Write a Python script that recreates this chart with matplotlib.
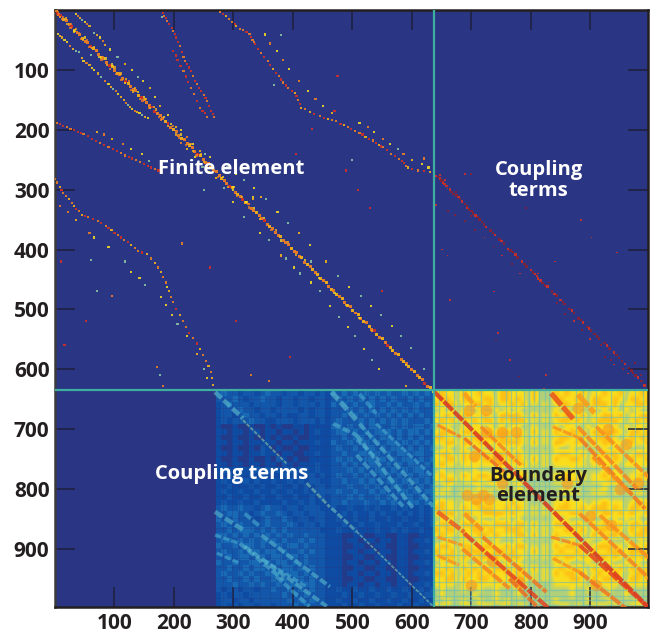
import matplotlib
matplotlib.use('Agg')
import numpy as np
import matplotlib.pyplot as plt
from matplotlib.colors import LinearSegmentedColormap

tick_values = [100, 200, 300, 400, 500, 600, 700, 800, 900]

labels_white = [("Finite element", 297, 265), ("Coupling\nterms", 813, 285), ("Coupling terms", 297, 775)]
labels_dark = [("Boundary\nelement", 813, 795)]

# level digits, 5 yellow-green, 6 yellow, 7 amber
be_levels = [
    "6766576676 6577666575 5576766756 6766756676",
    "6776577667 7577676575 5577667657 7667657767",
    "7677566776 7566767565 6567766757 7767566776",
    "5656565565 5656565555 5565656556 5656565655",
    "6676577667 6577776575 6576776756 6776756677",
    "6767576767 7576777565 6567767656 7777656767",
    "5665565665 6565665565 5565665565 6656565665",
    "6776577667 7677666575 6576677657 7677657767",
    "7766566776 7777676565 6567766756 7776567676",
    "6677577677 6677776575 6577667657 6776657667",
    "5565565565 5656565555 5565565555 5656565556",
    "6776576677 6777676565 6567766756 6777656776",
    "6677576767 7766776575 6576677657 7667657667",
    "6766566666 6676667565 6566666656 6666566666",
    "5655555655 5655565555 5555565555 5656555655",
    "6766576677 6676667565 5566766656 6766656676",
    "6677566766 7666666555 5566667656 6677656766",
    "5565555565 5655565555 5555555555 5655555655",
    "6665566666 6566566555 5556666556 6656556665",
    "5555555555 5555555555 5555555555 5555555555",
    "6766566776 6666766555 5566766656 6766656776",
    "7766576677 7667676565 6567766767 7767657767",
    "6777567667 7776766565 6576677657 6776767667",
    "5656565565 5656565555 5565655565 5656565655",
    "6776577767 6777677575 6577667657 6776757767",
    "7677566776 7667776565 6566776756 7767657677",
    "6766576677 6766677575 6576667657 6677656776",
    "5565565565 5655565555 5565565565 5655565565",
    "6776577667 7667677565 6576776756 7776657667",
    "7667567776 6776766575 6567667657 6677767776",
    "6777576677 7767776565 6576776766 7767657677",
    "5656565565 5656565555 5565655565 5565565655",
    "6676576767 6777677575 6567667657 6776757667",
    "7767567676 7667676565 6576776756 7667656776",
    "6677576677 6766777565 6566677657 6777657767",
    "6666566666 6666666555 5566666656 6666566666",
    "5655565565 5655565555 5555565565 5565565555",
    "5655555655 5655565555 5555565555 5655565555",
    "5565565565 5656555555 5565555565 5565555655",
    "6665566566 6566566555 5556656556 6656556665",
]
be_shades = {5: 5.35, 6: 6.0, 7: 6.8}

coupling_levels = [
    "2322122123 2212212212 1 3232323232 322323232",
    "2223212232 2122122122 1 2323232323 232232322",
    "1232221222 2122122212 1 3232322322 323223232",
    "1222322122 1222212122 1 2223232323 232323222",
    "1221232212 2121122122 1 2232323232 323232322",
    "1212223221 1222122212 1 2322232323 232322232",
    "1001001001 0100110111 1 3323232332 232323323",
    "1101101101 1011010121 1 2332323233 323233232",
    "1001001001 0100100111 1 2232332323 323232322",
    "1101101111 1011011121 1 3223233232 332323232",
    "1001001021 0100100111 1 2322323323 233232323",
    "1101101121 1011001121 1 2232233232 323323322",
    "1001001001 0210100111 1 2323223323 232332323",
    "1101101101 1021011121 1 2232322332 323233232",
    "1211211212 1212122121 1 2223232233 232323322",
    "1121212121 1121212212 1 2322323223 323232332",
    "1212121211 2112121221 1 2232232322 332323232",
    "1121112121 1211212122 1 2223223232 233232323",
    "1211211211 2112112122 2 2322322323 223323233",
    "1121121121 1211211212 1 2223232232 322332323",
    "1211211211 1121121211 1 2232223223 232233232",
    "2322322123 2212212221 1 2112112121 121211212",
    "2233221232 2321221222 1 1121211212 112121212",
    "3223222123 2232122122 1 1211211211 211211212",
    "2322322223 2223212212 1 1121121121 112112112",
    "2232333232 3232222221 1 1211211121 121211211",
    "3323232323 2323223222 1 1100110011 001100111",
    "2332323233 3232232322 1 1101101101 101101121",
    "3223233232 2323323222 1 1100110011 001100111",
    "2322323323 3232232322 1 1101101101 101101121",
    "2232332232 3323323222 1 1100110011 001100111",
    "3223223323 2332323222 1 1101101101 101101121",
    "2232232332 3233232322 1 1100110011 001100111",
    "2322323223 3323323222 1 1101101101 101101121",
    "2232232322 3232332322 1 1100110011 001100111",
    "2223223232 2323323322 1 1101101101 101101121",
    "2122122122 3223232322 1 1211211211 211211212",
    "1212212222 2232323222 1 1121121121 121121122",
    "1221221222 2223232322 1 1211211211 211211211",
    "1212122122 1222323222 1 1121121121 112112112",
]
coupling_shades = {0: 0.3, 1: 1.0, 2: 1.35, 3: 1.9}

be_columns = [646, 657, 671, 686, 699, 716, 738, 758, 766, 775, 789, 797, 806, 814, 823, 831, 876, 888, 910, 935, 955, 975, 989]
be_rows = [662, 679, 690, 712, 740, 765, 787, 795, 804, 812, 835, 860, 880, 910, 930, 955, 969, 978, 986, 994]
coupling_columns = [282, 297, 310, 330, 345, 361, 378, 394, 410, 425, 440, 455, 478, 494, 510, 525, 541, 556, 572, 588, 604, 620]
coupling_rows = [650, 665, 680, 695, 712, 728, 745, 760, 778, 795, 812, 848, 865, 880, 898, 915, 930, 948, 965, 982]

be_blob_x = [696, 724, 752, 775, 724, 880, 930, 960, 692, 720, 707, 730, 752, 705, 745, 780, 900, 935, 950, 980, 910, 860, 700, 735]
be_blob_y = [668, 668, 704, 704, 704, 665, 700, 725, 810, 810, 816, 816, 790, 745, 750, 955, 845, 860, 800, 790, 960, 790, 960, 920]

be_stripe_x0 = [637, 716, 688, 643, 688, 834, 879, 879, 837, 882, 910, 904, 643, 688, 688, 719, 643, 685, 643, 764, 834, 882, 882, 916, 837, 882]
be_stripe_y0 = [637, 696, 640, 693, 715, 640, 642, 696, 696, 715, 696, 746, 838, 874, 841, 880, 880, 900, 911, 950, 880, 841, 894, 844, 916, 939]
be_stripe_x1 = [1000, 783, 707, 682, 755, 873, 907, 978, 882, 992, 1000, 966, 688, 831, 719, 826, 685, 764, 679, 814, 882, 1000, 1000, 1000, 882, 961]
be_stripe_y1 = [1000, 760, 662, 713, 771, 685, 673, 799, 715, 833, 782, 805, 872, 1000, 869, 972, 894, 966, 927, 1000, 894, 950, 1000, 916, 939, 1000]
be_stripe_v = [9.1, 8, 7.6, 8, 8.3, 8.6, 7.6, 8, 7.7, 8.2, 7.8, 7.8, 8.5, 8.8, 7.8, 8.2, 7.7, 8, 7.7, 8.3, 8, 8, 8.8, 7.8, 7.7, 8.2]
be_stripe_w = [3.0, 2.5, 3.2, 2.3, 2.4, 3.8, 3.8, 2.8, 2.3, 2.8, 2.8, 2.8, 3.2, 3.0, 3.2, 2.8, 2.3, 2.8, 2.3, 2.8, 2.3, 2.8, 2.8, 2.8, 2.3, 2.8]

coupling_stripe_x0 = [269, 316, 423, 465, 507, 465, 512, 468, 507, 540, 507, 507, 512, 269, 319, 347, 269, 311, 319, 272, 350, 372]
coupling_stripe_y0 = [638, 685, 790, 832, 871, 638, 691, 691, 710, 691, 718, 743, 641, 838, 841, 877, 877, 891, 896, 907, 918, 946]
coupling_stripe_x1 = [316, 389, 462, 507, 636, 507, 636, 507, 602, 636, 546, 585, 540, 316, 345, 462, 311, 384, 457, 311, 423, 428]
coupling_stripe_y1 = [682, 757, 830, 871, 996, 685, 829, 710, 832, 780, 752, 829, 674, 868, 863, 963, 891, 952, 996, 924, 963, 996]
coupling_stripe_v = [4.0, 5, 4.8, 4.4, 4.8, 4, 3.8, 3.6, 3.8, 3.4, 3.4, 3.6, 3.3, 3.8, 3.4, 3.8, 3.4, 3.7, 3.8, 3.4, 3.4, 3.4]
coupling_stripe_w = [3.2, 1.4, 2, 2.2, 1.3, 3.6, 2.8, 2.8, 2.8, 2.3, 2.3, 2.8, 2.8, 3.2, 2.8, 2.8, 2.3, 2.8, 2.8, 2.3, 2.3, 2.8]

# (col, row, level) read along the sparse bands
main_diag = [
    (2,1,8),(6,7,8),(10,9,9),(15,16,7),(19,18,8),(24,25,8),(28,27,9),(33,34,7),(37,38,8),(42,41,8),(46,47,7),(51,52,8),
    (55,54,8),(60,61,9),(64,65,7),(69,68,8),(73,74,8),(78,79,7),(82,81,8),(87,88,8),(91,92,9),(96,95,7),(100,101,8),(105,106,7),
    (109,108,8),(114,115,8),(118,119,9),(123,122,7),(127,128,8),(132,133,8),(136,135,8),(141,142,7),(145,146,9),(150,149,8),(154,155,8),(159,160,8),
    (163,162,9),(168,169,9),(172,173,8),(177,176,8),(181,182,8),(186,187,7),(190,189,9),(195,196,8),(199,200,7),(204,203,8),(208,209,8),(213,214,7),
    (217,216,8),(222,223,8),(226,227,7),(231,230,8),(235,236,8),(240,241,9),(244,243,7),(249,250,8),(253,254,8),(258,257,8),(262,263,7),(267,268,8),
    (271,270,8),(276,277,8),(280,281,7),(285,284,8),(289,290,8),(294,295,9),(298,297,7),(303,304,8),(307,308,7),(312,311,8),(316,317,9),(321,322,7),
    (325,324,8),(330,331,8),(334,335,8),(339,338,7),(343,344,8),(348,349,8),(352,351,9),(357,358,8),(361,362,7),(366,365,8),(370,371,8),(375,376,8),
    (379,378,7),(384,385,8),(388,389,8),(393,392,8),(397,398,7),(402,403,8),(406,405,8),(411,412,8),(415,414,7),(420,421,8),(424,425,7),(429,428,8),
    (433,434,7),(438,439,8),(442,441,7),(447,448,7),(451,452,8),(456,455,7),(460,461,8),(465,466,7),(469,468,8),(474,475,7),(478,479,8),(483,482,7),
    (487,488,8),(492,493,7),(496,495,8),(501,502,7),(505,506,8),(510,509,7),(514,515,8),(519,520,7),(523,522,8),(528,529,7),(532,533,8),(537,536,9),
    (541,542,7),(546,547,8),(550,549,7),(555,556,8),(559,560,9),(564,563,7),(568,569,7),(573,574,8),(577,576,7),(582,583,8),(586,587,7),(591,590,8),
    (595,596,7),(600,601,8),(604,603,7),(609,610,8),(613,614,7),(618,617,8),(622,623,9),(627,628,8),(631,630,7),(636,637,6),
]
main_side = [
    (5,3,8),(9,12,7),(14,12,8),(21,24,7),(27,24,8),(32,36,6),(40,38,8),(47,50,7),(54,50,8),(62,64,7),(71,68,8),(75,78,6),
    (81,78,8),(88,92,7),(96,91,6),(103,107,8),(110,106,7),(118,122,6),(124,119,8),(131,136,7),(140,137,6),(147,151,8),(152,148,7),(160,164,6),
    (166,162,7),(175,179,8),(183,179,6),(190,194,7),(198,194,8),(204,208,7),(212,208,6),(220,225,8),(228,224,7),(238,243,8),(246,241,7),(256,261,8),
    (265,260,7),(274,279,8),(283,279,6),(291,296,7),(300,295,6),(306,311,8),(315,312,7),(326,330,8),(334,331,6),(345,349,7),(352,347,6),(364,368,8),
    (372,368,7),(380,385,6),(392,388,7),(405,409,7),(420,417,6),(444,448,6),(470,473,6),(490,493,7),(512,515,6),(533,536,7),(566,569,7),(590,593,6),
    (3,6,9),(12,15,8),(18,14,7),(26,30,8),(35,32,7),(44,48,8),(50,46,6),(58,62,8),(66,62,7),(78,83,8),(85,81,6),(93,98,8),(100,96,7),(112,117,8),
    (120,115,7),(128,133,8),(135,130,7),(143,148,8),(150,145,6),(158,163,8),(170,166,7),(178,183,8),(195,191,6),(208,213,8),(232,236,7),(250,254,7),
]
# parallel bands around the main diagonal
band_a = [
    (5,40,6),(9,43,7),(12,46,7),(16,50,6),(20,54,6),(25,60,8),(31,65,7),(36,68,5),(41,70,5),(45,80,7),(48,85,6),(53,88,8),(58,92,7),(62,97,6),(66,100,6),(72,106,7),
    (78,112,5),(84,118,8),(90,124,6),(94,128,7),(98,132,5),(102,136,8),(106,141,6),(111,146,7),(116,150,7),(120,155,8),(122,158,5),(126,162,7),(130,166,6),(134,168,8),(138,170,7),(142,172,6),(146,175,5),(152,178,7),(157,180,6),
]
band_b = [
    (36,7,6),(39,10,8),(42,14,7),(46,17,5),(50,20,6),(54,23,8),(58,26,7),(66,38,5),(70,42,7),(76,46,6),(80,52,8),(84,58,7),(92,66,6),(105,78,5),(118,90,7),(130,100,6),(140,112,5),
    (148,118,6),(160,130,7),(168,146,6),(176,160,7),(190,175,6),(204,196,7),(212,200,6),(222,212,8),(232,224,6),(244,235,7),(252,240,5),(260,246,6),
]
band_lower = [
    (212,222,8),(222,232,7),(235,245,6),(248,262,5),(258,270,6),(270,280,7),(284,298,5),(300,320,6),(318,346,5),(345,372,6),(360,384,5),(380,410,7),
    (388,415,5),(402,430,6),(412,440,5),(430,455,6),(445,470,5),(462,495,6),(478,512,5),(492,530,6),(505,545,5),(520,566,6),(533,585,5),(545,600,6),(590,628,7),
]
band_upper = [
    (290,262,5),(304,274,6),(318,284,5),(335,298,6),(346,312,7),(355,315,5),(374,338,6),(392,356,5),(410,372,7),(428,392,6),(456,420,7),(476,444,5),
    (495,462,6),(514,478,5),(532,494,6),(548,510,5),(566,528,6),(582,545,5),(598,564,5),(620,600,5),
]
band_c = [
    (181,5,9),(184,10,8),(186,14,9),(189,19,8),(192,24,9),(196,30,9),(199,35,8),(202,40,9),(204,46,9),(207,53,9),(210,60,8),(213,70,9),(216,79,8),(219,85,8),(222,90,9),(225,96,9),(228,102,9),(232,110,8),(236,118,9),(239,124,8),(242,130,9),(246,136,9),(250,142,8),
    (253,147,9),(256,152,8),(259,160,9),(262,168,9),(265,174,9),(267,179,8),(199,68,9),(203,76,9),(206,84,9),(211,93,9),(216,102,8),(220,111,9),(224,120,9),(229,130,8),(234,140,8),(239,152,9),(244,163,8),(248,168,9),(252,172,9),(256,179,8),
]
band_d = [
    (277,4,8),(283,7,9),(288,10,7),(293,15,8),(298,20,8),(302,24,9),(305,27,7),(311,31,8),(316,33,8),(322,37,9),(327,40,8),(330,45,9),(332,50,8),(334,54,8),(336,57,9),(341,65,9),(346,72,8),(352,78,9),(358,85,8),(362,92,9),(367,99,7),(372,105,9),(376,110,8),(380,116,9),
    (384,121,8),(388,126,9),(392,130,8),(398,135,9),(403,138,7),(406,144,9),(409,150,8),(412,157,9),(414,163,7),(420,166,8),(428,170,7),(436,174,9),(445,177,8),(452,180,9),(459,182,7),(466,184,8),(473,186,8),(480,190,9),(486,192,7),(492,195,8),(498,199,9),(505,202,8),(512,205,8),
    (517,208,9),(522,212,7),(528,215,9),(534,218,8),(539,222,9),(544,226,7),(548,228,9),(551,229,8),(558,234,9),(565,240,8),(572,244,9),(579,249,8),(583,252,9),(587,256,9),(590,260,8),(593,263,7),(600,265,9),(610,268,8),(620,269,9),(630,270,7),
]
band_d2 = [
    (353,41,6),(362,56,8),(373,69,6),(383,84,8),(393,99,6),(410,118,8),(426,135,6),(438,148,8),(451,160,6),(465,172,7),
    (512,188,6),(526,196,8),(537,204,6),(552,215,8),(563,224,6),(576,232,5),(586,241,8),(600,250,7),(617,257,6),(628,263,6),
]
band_e = [
    (3,188,8),(8,190,9),(14,193,9),(20,196,8),(26,198,8),(32,201,9),(38,203,9),(43,205,9),(48,207,8),(55,211,9),(62,215,9),(69,219,9),(76,222,8),(83,226,9),(90,229,8),(97,232,9),(104,235,9),(111,239,8),(118,243,8),(124,246,9),(130,248,9),(136,251,8),(143,254,8),
    (150,257,9),(156,260,9),(162,263,9),(168,266,8),(174,268,9),(179,271,9),(70,204,7),(82,208,8),(96,215,7),(115,224,8),(128,232,6),(146,240,6),(158,252,5),
]
band_f = [
    (0,282,8),(4,288,8),(8,295,7),(11,300,9),(14,305,8),(19,310,8),(24,316,7),(28,322,8),(32,328,7),(36,332,9),(40,336,8),(46,342,7),(51,344,9),(56,345,8),(64,349,9),(72,352,8),(78,356,9),(85,360,8),(90,364,9),(95,368,7),(100,372,9),(106,376,8),(111,380,9),
    (116,384,8),(122,388,9),(128,392,7),(134,397,8),(140,402,8),(147,405,9),(154,408,7),(161,415,8),(168,422,7),(173,430,8),(178,438,7),(182,446,8),(186,455,8),(189,462,6),(192,470,7),(195,479,8),(198,488,8),(204,499,9),(210,510,7),(215,520,8),(220,530,8),(226,539,9),(232,548,8),(238,557,9),
    (244,566,7),(249,576,8),(254,586,8),(258,595,7),(262,604,8),(264,615,7),(266,627,7),(8,328,8),(22,338,8),(36,350,7),(58,372,8),(66,380,6),(90,396,6),(118,420,5),(128,438,6),
    (142,448,6),(152,460,5),(178,480,6),(186,492,6),(196,510,6),(206,525,5),(222,545,6),(238,575,7),(250,600,5),(255,615,6),(172,596,8),(176,610,5),(182,628,8),
]
stray_cells = [
    (10,420,9),(52,520,9),(96,478,8),(60,75,5),(180,12,5),(380,42,5),(368,125,5),(60,418,5),(430,420,5),(500,250,5),
    (333,315,7),(333,313,6),(322,320,6),(405,240,9),(432,198,9),(475,110,9),(470,168,9),(490,268,9),(510,300,9),(530,330,9),(550,470,9),
    (395,580,9),(360,620,8),(305,520,9),(330,610,8),(70,470,5),(620,248,8),(16,560,9),(250,300,5),(300,300,6),(260,430,9),(214,390,8),
]
coupling_diag = [
    (641,277,9),(647,281,9),(652,288,9),(658,294,9),(664,300,9),(670,307,10),(678,312,9),(684,320,9),(689,324,10),(696,333,10),(703,340,10),(710,346,10),
    (718,354,10),(725,362,9),(732,368,10),(740,376,9),(747,383,10),(755,390,10),(762,399,9),(770,404,10),(778,413,10),(785,420,9),(793,428,10),(800,434,9),
    (807,441,9),(812,448,9),(820,456,10),(828,462,9),(836,470,10),(843,477,10),(850,484,9),(857,491,10),(865,499,10),(873,506,10),(880,515,10),(888,522,9),
    (895,529,10),(901,535,10),(907,541,10),(915,549,10),(924,556,10),(932,565,10),(940,572,9),(948,581,10),(958,591,9),(965,598,10),(972,606,10),(980,614,9),(986,620,10),(991,627,9),
    (644,279,10),(650,285,10),(655,291,9),(667,304,10),(675,310,10),(681,316,10),(693,328,10),(700,336,10),(707,343,9),(714,350,10),(721,358,10),(736,372,10),(751,386,9),(766,402,10),(774,408,9),(789,424,10),
    (804,438,10),(810,444,9),(816,452,9),(824,460,10),(840,474,9),(854,488,10),(869,502,9),(884,518,10),(898,532,9),(911,545,10),(928,560,9),(944,576,10),(953,586,10),(969,602,10),(976,610,10),
]
coupling_side = [
    (648,275,9),(655,284,9),(660,298,9),(674,304,10),(692,330,9),(700,344,10),(661,335,10),(672,342,10),(690,352,10),(706,368,10),(722,380,9),(738,395,10),
    (752,410,9),(768,424,10),(782,440,9),(796,420,10),(812,440,9),(830,455,10),(844,490,10),(858,508,10),(872,520,9),(886,535,10),(900,550,9),(918,560,10),
    (935,585,10),(924,580,10),(940,592,9),(955,600,10),(963,607,9),(975,590,10),(985,610,10),(690,274,9),(700,274,10),(792,330,10),(840,420,9),(885,350,9),
    (902,380,9),(945,405,9),(640,325,9),(650,400,9),(660,410,9),(664,485,9),(738,470,9),(745,540,9),(742,552,10),(765,585,9),(826,610,9),(822,632,9),(780,612,10),
]
sep_x = 637
sep_y = 635

plt.rcParams['font.family'] = ['Open Sans', 'DejaVu Sans']

cmap = LinearSegmentedColormap.from_list('fem', [
    '#2a3583', '#0e4ca3', '#1a6fb8', '#3a9fd0', '#63c3cf', '#8dc9a8',
    '#fbdf1e', '#fdb913', '#f58220', '#e0301e', '#8c2030'])
norm = plt.Normalize(0, 10)


def parse_levels(rows, shades):
    return np.array([[shades[int(c)] for c in row.replace(' ', '')] for row in rows])


def draw_cells(ax, points, size, alpha=0.9):
    xs = [p[0] for p in points]
    ys = [p[1] for p in points]
    vs = [p[2] for p in points]
    ax.scatter(xs, ys, c=vs, cmap=cmap, norm=norm, marker='s', s=size, linewidths=0, alpha=alpha, zorder=4)


def draw_stripes(ax, x0, y0, x1, y1, vals, widths, alpha, dash):
    for a, b, c, d, v, w in zip(x0, y0, x1, y1, vals, widths):
        ax.plot([a, c], [b, d], color=cmap(norm(v)), lw=w, alpha=alpha, ls=(0, dash),
                dash_capstyle='butt', zorder=3)


fig = plt.figure(figsize=(6.51, 6.35), dpi=100)
ax = fig.add_axes([55 / 651, 1 - 607 / 635, (648 - 55) / 651, (607 - 10) / 635])
ax.set_facecolor(cmap(0.0))

ax.imshow(parse_levels(be_levels, be_shades), extent=(637, 1000, 1000, 637), cmap=cmap, norm=norm,
          interpolation='bilinear', aspect='auto', zorder=1)
ax.imshow(parse_levels(coupling_levels, coupling_shades), extent=(270, 637, 1000, 637), cmap=cmap, norm=norm,
          interpolation='nearest', aspect='auto', zorder=1)

for c in be_columns:
    ax.plot([c, c], [637, 1000], color='#6dbfb8', lw=0.9, alpha=0.6, zorder=2)
for r in be_rows:
    ax.plot([637, 1000], [r, r], color='#6dbfb8', lw=0.9, alpha=0.6, zorder=2)
for c in coupling_columns:
    ax.plot([c, c], [637, 1000], color='#2a3583', lw=0.6, alpha=0.35, zorder=2)
for r in coupling_rows:
    ax.plot([270, 637], [r, r], color='#2a3583', lw=0.6, alpha=0.35, zorder=2)

ax.scatter(be_blob_x, be_blob_y, s=70, color=cmap(norm(7.6)), alpha=0.6, linewidths=0, zorder=2)
draw_stripes(ax, be_stripe_x0, be_stripe_y0, be_stripe_x1, be_stripe_y1, be_stripe_v, be_stripe_w, 0.82, (3, 0.4))
draw_stripes(ax, coupling_stripe_x0, coupling_stripe_y0, coupling_stripe_x1, coupling_stripe_y1,
             coupling_stripe_v, coupling_stripe_w, 0.58, (2, 0.7))

draw_cells(ax, main_diag, 4.6)
draw_cells(ax, main_side, 2.6, 0.75)
for band in [band_a, band_b, band_lower, band_upper, band_c, band_d, band_d2, band_e, band_f, stray_cells]:
    draw_cells(ax, band, 2.3, 0.85)
draw_cells(ax, coupling_diag, 3.2, 0.85)
draw_cells(ax, coupling_side, 1.8, 0.8)

ax.axvline(sep_x, color='#3fae9f', lw=1.6, zorder=5)
ax.axhline(sep_y, color='#3fae9f', lw=1.6, zorder=5)

ax.set_xlim(0, 997)
ax.set_ylim(997, 0)
ax.set_xticks(tick_values)
ax.set_yticks(tick_values)
ax.tick_params(axis='both', direction='in', length=14.5, width=1.1, color='#1d1f3c',
               top=True, right=True, labelsize=15, pad=4, labelcolor='#231f20')
for lab in ax.get_xticklabels() + ax.get_yticklabels():
    lab.set_fontweight('bold')
for spine in ax.spines.values():
    spine.set_linewidth(1.8)
    spine.set_color('#231f20')
ax.spines['left'].set_color('#3a3a3c')

for text, x, y in labels_white:
    ax.text(x, y, text, color='white', fontsize=14.5, fontweight='bold', ha='center', va='center',
            linespacing=1.05, zorder=6)
for text, x, y in labels_dark:
    ax.text(x, y, text, color='#231f20', fontsize=14.5, fontweight='bold', ha='center', va='center',
            linespacing=1.05, zorder=6)

fig.savefig('out.png', dpi=100)
